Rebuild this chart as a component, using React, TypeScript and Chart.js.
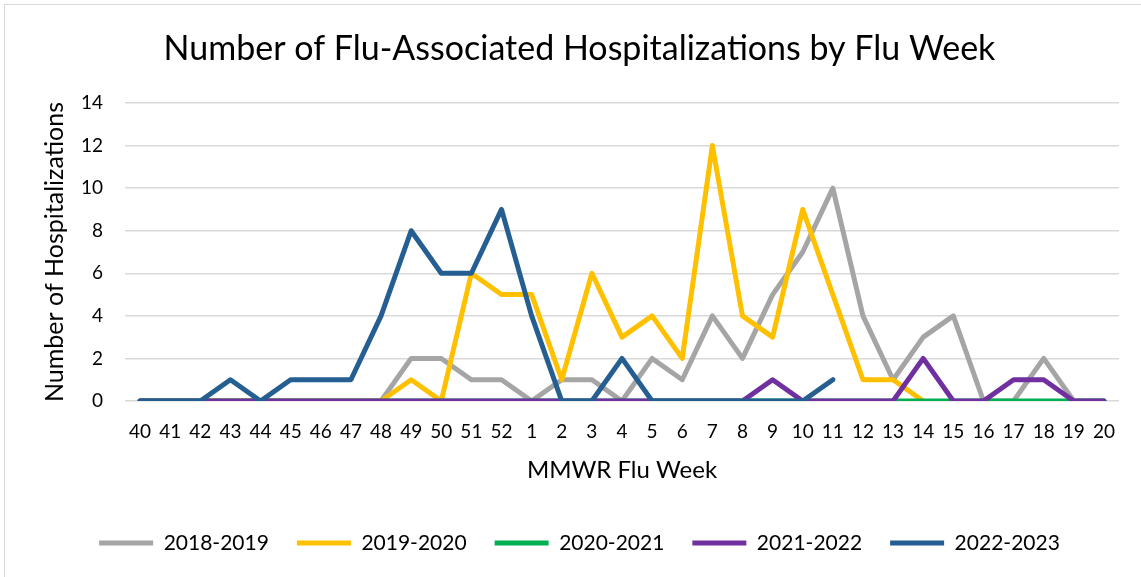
import React, { useEffect, useRef } from "react";
import { Chart, registerables } from "chart.js";

Chart.register(...registerables);

const weeks = [
  "40", "41", "42", "43", "44", "45", "46", "47", "48", "49", "50", "51", "52",
  "1", "2", "3", "4", "5", "6", "7", "8", "9", "10", "11", "12", "13", "14", "15", "16", "17", "18", "19", "20",
];

const season2018 = [0, 0, 0, 0, 0, 0, 0, 0, 0, 2, 2, 1, 1, 0, 1, 1, 0, 2, 1, 4, 2, 5, 7, 10, 4, 1, 3, 4, 0, 0, 2, 0, 0];
const season2019 = [0, 0, 0, 0, 0, 0, 0, 0, 0, 1, 0, 6, 5, 5, 1, 6, 3, 4, 2, 12, 4, 3, 9, 5, 1, 1, 0, null, null, null, null, null, null];
const season2020 = [0, 0, 0, 0, 0, 0, 0, 0, 0, 0, 0, 0, 0, 0, 0, 0, 0, 0, 0, 0, 0, 0, 0, 0, 0, 0, 0, 0, 0, 0, 0, 0, 0];
const season2021 = [0, 0, 0, 0, 0, 0, 0, 0, 0, 0, 0, 0, 0, 0, 0, 0, 0, 0, 0, 0, 0, 1, 0, 0, 0, 0, 2, 0, 0, 1, 1, 0, 0];
const season2022 = [0, 0, 0, 1, 0, 1, 1, 1, 4, 8, 6, 6, 9, 4, 0, 0, 2, 0, 0, 0, 0, 0, 0, 1, null, null, null, null, null, null, null, null, null];

const seriesNames = ["2018-2019", "2019-2020", "2020-2021", "2021-2022", "2022-2023"];
const seriesColors = ["#A5A5A5", "#FFC000", "#00B050", "#7030A0", "#255E91"];
const seriesValues = [season2018, season2019, season2020, season2021, season2022];

const yTicksMin = 0;
const yTicksMax = 14;
const yTicksStep = 2;

const FONT = "Lato";

const borderPlugin = {
  id: "outerBorder",
  beforeDraw(chart: any) {
    const ctx = chart.ctx;
    ctx.save();
    ctx.fillStyle = "#ffffff";
    ctx.fillRect(0, 0, chart.width, chart.height);
    ctx.strokeStyle = "#d9d9d9";
    ctx.lineWidth = 1;
    ctx.strokeRect(4.5, 4.5, chart.width, chart.height);
    ctx.restore();
  },
};

export default function App() {
  const ref = useRef<HTMLCanvasElement | null>(null);

  useEffect(() => {
    if (!ref.current) return;
    const chart = new Chart(ref.current, {
      type: "line",
      data: {
        labels: weeks,
        datasets: seriesNames.map((name, i) => ({
          label: name,
          data: seriesValues[i],
          borderColor: seriesColors[i],
          backgroundColor: seriesColors[i],
          borderWidth: 5,
          borderCapStyle: "round",
          borderJoinStyle: "round",
          pointRadius: 0,
          pointHoverRadius: 0,
          fill: false,
          tension: 0,
          spanGaps: false,
          order: seriesNames.length - 1 - i,
        })),
      },
      options: {
        animation: false,
        responsive: false,
        devicePixelRatio: 1,
        events: [],
        layout: { padding: { left: 40, right: 22, top: 0, bottom: 13.5 } },
        plugins: {
          title: {
            display: true,
            text: "Number of Flu-Associated Hospitalizations by Flu Week",
            color: "#000000",
            font: { family: FONT, size: 34, weight: "normal" },
            padding: { top: 28.5, bottom: 33.7 },
          },
          legend: {
            position: "bottom",
            labels: {
              usePointStyle: true,
              pointStyle: "line",
              pointStyleWidth: 54,
              boxHeight: 21,
              color: "#000000",
              font: { family: FONT, size: 21 },
              padding: 28,
              sort: (a: any, b: any) => a.datasetIndex - b.datasetIndex,
            },
          },
          tooltip: { enabled: false },
        },
        scales: {
          x: {
            offset: true,
            grid: { display: false, drawTicks: false },
            border: { display: false },
            ticks: {
              autoSkip: false,
              maxRotation: 0,
              minRotation: 0,
              padding: 19,
              color: "#000000",
              font: { family: FONT, size: 19 },
            },
            title: {
              display: true,
              text: "MMWR Flu Week",
              color: "#000000",
              font: { family: FONT, size: 24 },
              padding: { top: 0, bottom: 20 },
            },
            afterFit: (scale: any) => {
              scale.height = 103.5;
            },
          },
          y: {
            min: yTicksMin,
            max: yTicksMax,
            grid: { color: "#d9d9d9", lineWidth: 1.5, drawTicks: false },
            border: { display: false },
            ticks: {
              stepSize: yTicksStep,
              padding: 22,
              color: "#000000",
              font: { family: FONT, size: 19 },
            },
            title: {
              display: true,
              text: "Number of Hospitalizations",
              color: "#000000",
              font: { family: FONT, size: 25 },
              padding: { top: 0, bottom: 0 },
            },
            afterFit: (scale: any) => {
              scale.width = 85;
            },
          },
        },
      },
      plugins: [borderPlugin],
    } as any);
    return () => chart.destroy();
  }, []);

  return (
    <div style={{ position: "fixed", left: 0, top: 0, width: 1141, height: 577, overflow: "hidden", background: "#fff" }}>
      <canvas ref={ref} width={1141} height={577} style={{ display: "block", width: 1141, height: 577 }} />
    </div>
  );
}
